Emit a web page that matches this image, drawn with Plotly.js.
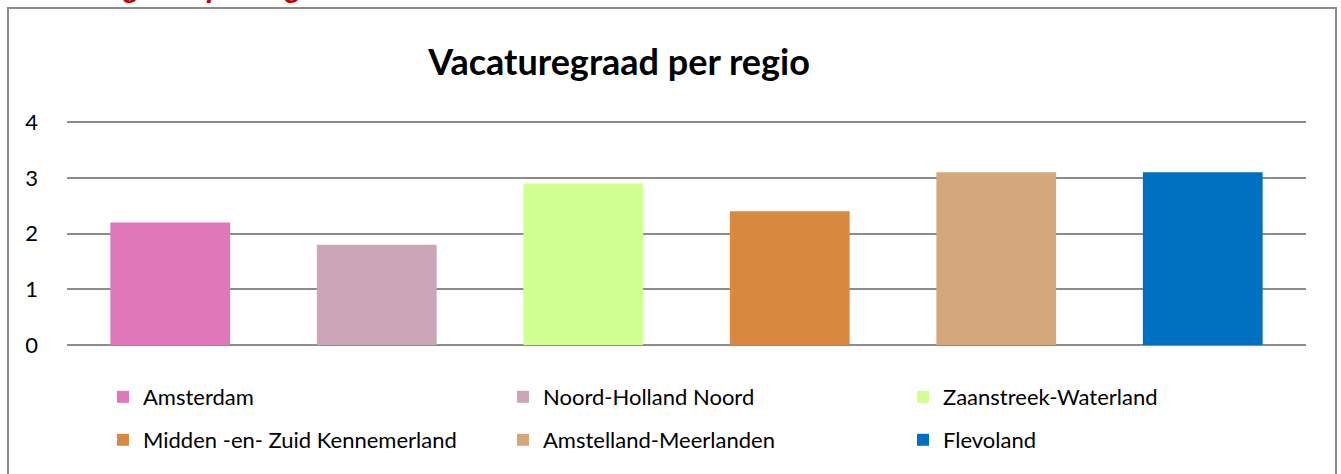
<!DOCTYPE html>
<html>
<head>
<meta charset="utf-8">
<script src="https://cdn.plot.ly/plotly-3.0.1.min.js"></script>
<style>
html,body{margin:0;padding:0;background:#fff;overflow:hidden;}
#wrap{position:relative;width:1341px;height:474px;overflow:hidden;}
#chart{position:absolute;left:0;top:0;width:1341px;height:474px;}
#frame{position:absolute;left:7px;top:7px;width:1326px;height:520px;border:2px solid #8c8c8c;pointer-events:none;}
#caption{position:absolute;left:6px;top:-26px;font:italic bold 28px 'Liberation Sans',Arial,sans-serif;line-height:28px;color:#C00000;white-space:nowrap;}
</style>
</head>
<body>
<div id="wrap">
  <div id="chart"></div>
  <div id="frame"></div>
  <div id="caption">Vacaturegraad per regio</div>
</div>
<script>
var regions = ["Amsterdam", "Noord-Holland Noord", "Zaanstreek-Waterland",
               "Midden -en- Zuid Kennemerland", "Amstelland-Meerlanden", "Flevoland"];
var values = [2.2, 1.8, 2.9, 2.4, 3.1, 3.1];
var colors = ["#E077B8", "#CCA5B8", "#D2FF91", "#D98840", "#D4A87A", "#0070C0"];
var legendGroups = ["legend", "legend", "legend", "legend2", "legend2", "legend2"];
var yTicks = [0, 1, 2, 3, 4];

var FONT = "Lato, 'Open Sans', sans-serif";

var traces = regions.map(function (r, i) {
  return {
    type: "bar",
    name: r,
    x: [r],
    y: [values[i]],
    marker: {color: colors[i], line: {width: 0}},
    legend: legendGroups[i],
    hoverinfo: "x+y"
  };
});

var legendCommon = {
  orientation: "h",
  xref: "container",
  yref: "container",
  xanchor: "left",
  yanchor: "middle",
  entrywidth: 355,
  entrywidthmode: "pixels",
  font: {family: FONT, size: 22, color: "#000"},
  bgcolor: "rgba(0,0,0,0)",
  itemclick: false,
  itemdoubleclick: false
};

var layout = {
  width: 1341,
  height: 474,
  paper_bgcolor: "#fff",
  plot_bgcolor: "#fff",
  margin: {l: 67, r: 35, t: 120, b: 129},
  barmode: "overlay",
  bargap: 0.42,
  title: {
    text: "<b>Vacaturegraad per regio</b>",
    font: {family: FONT, size: 36, color: "#000"},
    xref: "container", yref: "container",
    x: 619 / 1341, xanchor: "center",
    y: 1 - 62 / 474, yanchor: "middle"
  },
  xaxis: {
    type: "category",
    categoryorder: "array",
    categoryarray: regions,
    showticklabels: false,
    showgrid: false,
    zeroline: false,
    showline: false,
    ticks: "",
    fixedrange: true
  },
  yaxis: {
    range: [0, 4.04],
    tickvals: yTicks,
    ticktext: yTicks.map(String),
    showgrid: true,
    gridcolor: "#8c8c8c",
    gridwidth: 2,
    zeroline: true,
    zerolinecolor: "#8c8c8c",
    zerolinewidth: 2,
    showline: false,
    ticks: "",
    ticklabelstandoff: 28,
    tickfont: {family: FONT, size: 22, color: "#000"},
    fixedrange: true
  },
  legend: Object.assign({}, legendCommon, {x: 103 / 1341, y: 1 - 397 / 474}),
  legend2: Object.assign({}, legendCommon, {x: 103 / 1341, y: 1 - 440 / 474}),
  showlegend: true
};

Plotly.newPlot("chart", traces, layout, {displayModeBar: false, staticPlot: false});
</script>
</body>
</html>
